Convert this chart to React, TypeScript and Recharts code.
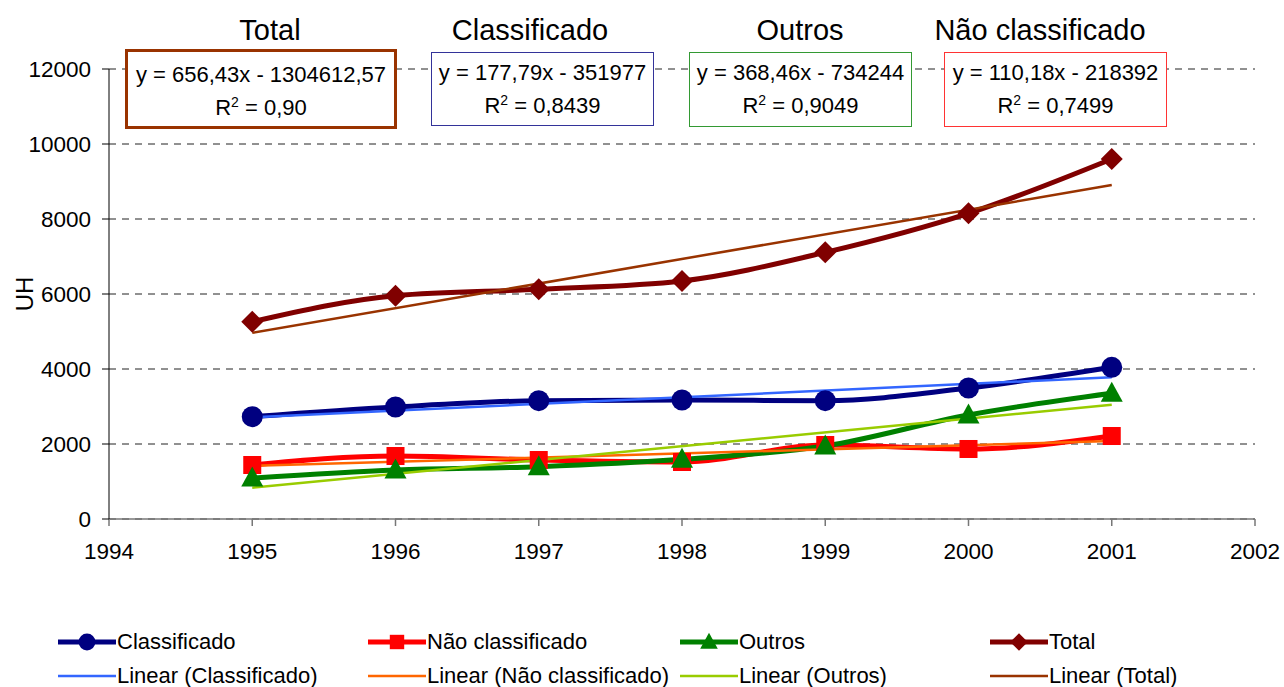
import React from "react";
import { LineChart, Line, XAxis, YAxis, CartesianGrid } from "recharts";

const years = [1995, 1996, 1997, 1998, 1999, 2000, 2001];
const classificado = [2729, 2987, 3155, 3173, 3155, 3493, 4045];
const naoClassificado = [1440, 1680, 1573, 1520, 1973, 1867, 2213];
const outros = [1093, 1307, 1395, 1591, 1947, 2773, 3351];
const total = [5261, 5955, 6125, 6347, 7111, 8152, 9600];

// trend line end points (1995 and 2001), read from the fitted equations
const trendYears = [1995, 2001];
const trendClassificado = [2714, 3781];
const trendNao = [1417, 2078];
const trendOutros = [834, 3045];
const trendTotal = [4965, 8904];

const xTicks = [1994, 1995, 1996, 1997, 1998, 1999, 2000, 2001, 2002];
const yTicks = [0, 2000, 4000, 6000, 8000, 10000, 12000];

const data = years.map((year, i) => {
  const t = trendYears.indexOf(year);
  return {
    year,
    classificado: classificado[i],
    nao: naoClassificado[i],
    outros: outros[i],
    total: total[i],
    tClassificado: t >= 0 ? trendClassificado[t] : null,
    tNao: t >= 0 ? trendNao[t] : null,
    tOutros: t >= 0 ? trendOutros[t] : null,
    tTotal: t >= 0 ? trendTotal[t] : null,
  };
});

const font = '"Liberation Sans", Arial, sans-serif';

type Shape = "circle" | "square" | "triangle" | "diamond";

function Marker({ shape, cx, cy, fill, s }: { shape: Shape; cx: number; cy: number; fill: string; s: number }) {
  if (shape === "circle") return <circle cx={cx} cy={cy} r={s} fill={fill} />;
  if (shape === "square") return <rect x={cx - s} y={cy - s} width={s * 2} height={s * 2} fill={fill} />;
  if (shape === "triangle")
    return <polygon points={`${cx},${cy - s * 1.15} ${cx + s * 1.1},${cy + s * 0.85} ${cx - s * 1.1},${cy + s * 0.85}`} fill={fill} />;
  return <polygon points={`${cx},${cy - s * 1.1} ${cx + s * 1.1},${cy} ${cx},${cy + s * 1.1} ${cx - s * 1.1},${cy}`} fill={fill} />;
}

const dotFor = (shape: Shape, fill: string, s: number) => (props: any) => {
  const { cx, cy, index } = props;
  if (cx == null || cy == null) return <g key={`d-${index}`} />;
  return (
    <g key={`d-${index}`}>
      <Marker shape={shape} cx={cx} cy={cy} fill={fill} s={s} />
    </g>
  );
};

const series = [
  { key: "classificado", name: "Classificado", color: "#000080", shape: "circle" as Shape, size: 10.5 },
  { key: "nao", name: "Não classificado", color: "#FF0000", shape: "square" as Shape, size: 9 },
  { key: "outros", name: "Outros", color: "#008000", shape: "triangle" as Shape, size: 10 },
  { key: "total", name: "Total", color: "#800000", shape: "diamond" as Shape, size: 10 },
];

const trends = [
  { key: "tClassificado", name: "Linear (Classificado)", color: "#3366FF" },
  { key: "tNao", name: "Linear (Não classificado)", color: "#FF6600" },
  { key: "tOutros", name: "Linear (Outros)", color: "#99CC00" },
  { key: "tTotal", name: "Linear (Total)", color: "#993300" },
];

const boxes = [
  { title: "Total", cx: 270, eq: "y = 656,43x - 1304612,57", r2: "0,90", left: 125, top: 49, w: 272, h: 80, border: "3px solid #993300" },
  { title: "Classificado", cx: 530, eq: "y = 177,79x - 351977", r2: "0,8439", left: 431, top: 52, w: 223, h: 74, border: "1px solid #333399" },
  { title: "Outros", cx: 800, eq: "y = 368,46x - 734244", r2: "0,9049", left: 689, top: 52, w: 223, h: 75, border: "1px solid #339933" },
  { title: "Não classificado", cx: 1040, eq: "y = 110,18x - 218392", r2: "0,7499", left: 944, top: 52, w: 223, h: 75, border: "1px solid #FF3333" },
];

const legendCols = [58, 368, 680, 990];

export default function App() {
  return (
    <div style={{ position: "absolute", left: 0, top: 0, width: 1284, height: 687, background: "#fff", fontFamily: font }}>
      <LineChart width={1284} height={687} data={data} margin={{ top: 69, right: 29, left: 29, bottom: 108 }}>
        <CartesianGrid vertical={false} stroke="#222" strokeDasharray="7 6" />
        <XAxis
          dataKey="year"
          type="number"
          domain={[1994, 2002]}
          ticks={xTicks}
          height={60}
          stroke="#777"
          strokeWidth={1.5}
          tickSize={7}
          tickMargin={17}
          tick={{ fill: "#000", fontSize: 22.5, fontFamily: font }}
        />
        <YAxis
          type="number"
          domain={[0, 12000]}
          ticks={yTicks}
          width={80}
          stroke="#000"
          tickSize={7}
          tickMargin={11}
          tick={{ fill: "#000", fontSize: 22.5, fontFamily: font }}
        />
        {series.map((s) => (
          <Line
            key={s.key}
            dataKey={s.key}
            type="monotone"
            stroke={s.color}
            strokeWidth={5}
            dot={dotFor(s.shape, s.color, s.size)}
            activeDot={false}
            isAnimationActive={false}
          />
        ))}
        {trends.map((t) => (
          <Line
            key={t.key}
            dataKey={t.key}
            type="linear"
            stroke={t.color}
            strokeWidth={2.5}
            dot={false}
            activeDot={false}
            connectNulls
            isAnimationActive={false}
          />
        ))}
      </LineChart>

      <div
        style={{
          position: "absolute",
          left: 25,
          top: 294,
          transform: "translate(-50%, -50%) rotate(-90deg)",
          fontSize: 24,
          color: "#000",
        }}
      >
        UH
      </div>

      {boxes.map((b) => (
        <React.Fragment key={b.title}>
          <div
            style={{
              position: "absolute",
              left: b.cx,
              top: 30,
              transform: "translate(-50%, -50%)",
              fontSize: 29,
              whiteSpace: "nowrap",
              color: "#000",
            }}
          >
            {b.title}
          </div>
          <div
            style={{
              position: "absolute",
              left: b.left,
              top: b.top,
              width: b.w,
              height: b.h,
              boxSizing: "border-box",
              border: b.border,
              background: "#fff",
              fontSize: 22,
              color: "#000",
              textAlign: "center",
            }}
          >
            <div style={{ position: "absolute", left: 0, right: 0, top: 72 - b.top - 14, lineHeight: "28px", whiteSpace: "nowrap" }}>
              {b.eq}
            </div>
            <div style={{ position: "absolute", left: 0, right: 0, top: 105 - b.top - 14, lineHeight: "28px", whiteSpace: "nowrap" }}>
              R<sup style={{ fontSize: 14, verticalAlign: "8px", lineHeight: 0 }}>2</sup> = {b.r2}
            </div>
          </div>
        </React.Fragment>
      ))}

      {series.map((s, i) => (
        <div key={s.key} style={{ position: "absolute", left: legendCols[i], top: 642 - 12, height: 24, display: "flex", alignItems: "center" }}>
          <svg width={58} height={24}>
            <line x1={0} y1={12} x2={58} y2={12} stroke={s.color} strokeWidth={5} />
            <Marker shape={s.shape} cx={29} cy={12} fill={s.color} s={s.size * 0.8} />
          </svg>
          <span style={{ fontSize: 22, marginLeft: 1, whiteSpace: "nowrap", color: "#000" }}>{s.name}</span>
        </div>
      ))}
      {trends.map((t, i) => (
        <div key={t.key} style={{ position: "absolute", left: legendCols[i], top: 676 - 12, height: 24, display: "flex", alignItems: "center" }}>
          <svg width={58} height={24}>
            <line x1={0} y1={12} x2={58} y2={12} stroke={t.color} strokeWidth={2.5} />
          </svg>
          <span style={{ fontSize: 22, marginLeft: 1, whiteSpace: "nowrap", color: "#000" }}>{t.name}</span>
        </div>
      ))}
    </div>
  );
}
